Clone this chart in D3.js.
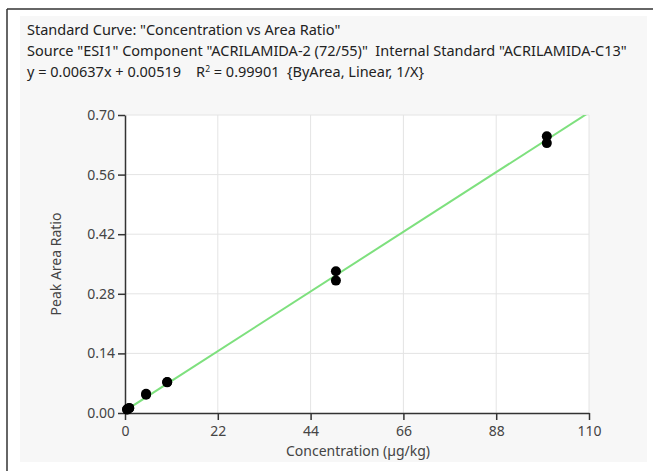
<!DOCTYPE html>
<html>
<head>
<meta charset="utf-8">
<script src="https://d3js.org/d3.v7.min.js"></script>
<style>
  body { margin: 0; background: #fff; }
  text { font-family: "Segoe UI", "Noto Sans", sans-serif; white-space: pre; }
</style>
</head>
<body>
<div id="chart"></div>
<script>

    const width = 653,
        height = 471;

    // header lines
    const titleLines = [
        'Standard Curve: "Concentration vs Area Ratio"',
        'Source "ESI1" Component "ACRILAMIDA-2 (72/55)"  Internal Standard "ACRILAMIDA-C13"'
    ];

    // calibration points (concentration, peak area ratio)
    const concentrations = [0.5, 0.5, 1, 1, 5, 5, 10, 10, 50, 50, 100, 100];
    const areaRatios = [0.008, 0.009, 0.011, 0.012, 0.043, 0.045, 0.072, 0.073, 0.311, 0.333, 0.634, 0.650];

    // fit
    const slope = 0.00637,
        intercept = 0.00519;

    const xTicks = [0, 22, 44, 66, 88, 110];
    const yTicks = [0.00, 0.14, 0.28, 0.42, 0.56, 0.70];

    const plot = {left: 125, right: 589, top: 115, bottom: 413};
    const fs = '14.5px';
    const tfs = '14px';

    const svg = d3.select('#chart').append('svg')
        .attr('width', width)
        .attr('height', height);

    // outer frame + grey panel
    svg.append('rect').attr('x', 20).attr('y', 16).attr('width', 627).attr('height', 446).attr('fill', '#f7f7f7');
    svg.append('line').attr('x1', 7).attr('x2', width).attr('y1', 9).attr('y2', 9).attr('stroke', '#333').attr('stroke-width', 1.5);
    svg.append('line').attr('x1', 7).attr('x2', 7).attr('y1', 9).attr('y2', height).attr('stroke', '#333').attr('stroke-width', 1.5);

    // header text
    const head = svg.append('g').attr('fill', '#222').style('font-size', fs);
    titleLines.forEach((t, i) => {
        head.append('text').attr('x', 27).attr('y', 35 + i * 21).text(t);
    });
    const eq = head.append('text').attr('x', 27).attr('y', 77);
    eq.append('tspan').text('y = ' + slope + 'x + ' + intercept + '    R');
    eq.append('tspan').attr('dy', -5).style('font-size', '8.5px').text('2');
    eq.append('tspan').attr('dy', 5).text(' = 0.99901  {ByArea, Linear, 1/X}');

    const x = d3.scaleLinear().domain([0, 110]).range([plot.left, plot.right]);
    const y = d3.scaleLinear().domain([0, 0.70]).range([plot.bottom, plot.top]);

    // plot background
    svg.append('rect')
        .attr('x', plot.left).attr('y', plot.top)
        .attr('width', plot.right - plot.left).attr('height', plot.bottom - plot.top)
        .attr('fill', '#fff');

    // grid
    svg.append('g').selectAll('line.vg').data(xTicks.slice(1)).enter()
        .append('line')
        .attr('x1', d => x(d)).attr('x2', d => x(d))
        .attr('y1', plot.top).attr('y2', plot.bottom)
        .attr('stroke', '#e4e4e4');
    svg.append('g').selectAll('line.hg').data(yTicks.slice(1)).enter()
        .append('line')
        .attr('x1', plot.left).attr('x2', plot.right)
        .attr('y1', d => y(d)).attr('y2', d => y(d))
        .attr('stroke', '#e4e4e4');

    // axes
    const xAxis = svg.append('g')
        .attr('transform', `translate(0,${plot.bottom})`)
        .call(d3.axisBottom(x).tickValues(xTicks).tickFormat(d3.format('d')).tickSize(7).tickSizeOuter(0));
    const yAxis = svg.append('g')
        .attr('transform', `translate(${plot.left},0)`)
        .call(d3.axisLeft(y).tickValues(yTicks).tickFormat(d3.format('.2f')).tickSize(7).tickSizeOuter(0));
    [xAxis, yAxis].forEach(a => {
        a.select('.domain').attr('stroke', '#333').attr('stroke-width', 1.5);
        a.selectAll('.tick line').attr('stroke', '#333').attr('stroke-width', 1.5);
        a.selectAll('.tick text').attr('fill', '#444').style('font-size', tfs)
            .style('font-family', '"Segoe UI", "Noto Sans", sans-serif');
    });
    xAxis.selectAll('.tick text').attr('dy', '0.95em');
    yAxis.selectAll('.tick text').attr('x', -10);

    // axis titles
    svg.append('text')
        .attr('x', (plot.left + plot.right) / 2 + 1).attr('y', 456)
        .attr('text-anchor', 'middle').attr('fill', '#444').style('font-size', tfs)
        .text('Concentration (\u00b5g/kg)');
    svg.append('text')
        .attr('transform', `translate(61,${(plot.top + plot.bottom) / 2}) rotate(-90)`)
        .attr('text-anchor', 'middle').attr('fill', '#444').style('font-size', tfs)
        .text('Peak Area Ratio');

    // regression line, clipped to plot area
    svg.append('clipPath').attr('id', 'clip')
        .append('rect')
        .attr('x', plot.left).attr('y', plot.top)
        .attr('width', plot.right - plot.left).attr('height', plot.bottom - plot.top);
    const fitLine = d3.line().x(d => x(d)).y(d => y(slope * d + intercept));
    svg.append('path')
        .datum([0, 110])
        .attr('d', fitLine)
        .attr('clip-path', 'url(#clip)')
        .attr('fill', 'none')
        .attr('stroke', '#7ee07e')
        .attr('stroke-width', 2);

    // points
    svg.append('g').selectAll('circle').data(concentrations).enter()
        .append('circle')
        .attr('cx', d => x(d))
        .attr('cy', (d, i) => y(areaRatios[i]))
        .attr('r', 5)
        .attr('fill', '#000');

</script>
</body>
</html>
